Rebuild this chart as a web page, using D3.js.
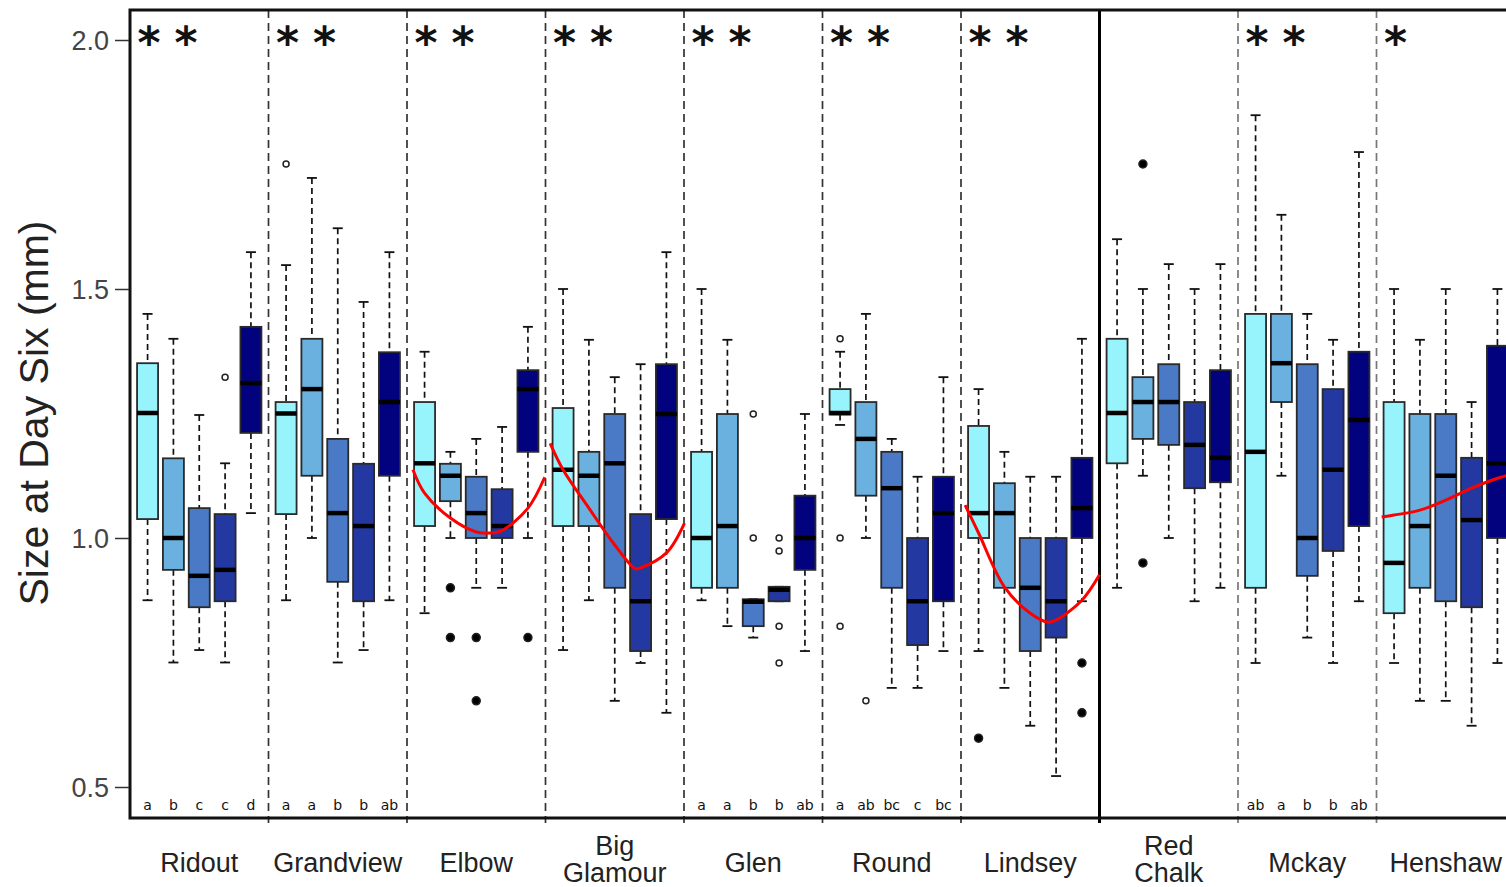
<!DOCTYPE html>
<html>
<head>
<meta charset="utf-8">
<script src="https://cdn.jsdelivr.net/npm/d3@7"></script>
<style>
  body { margin: 0; background: #fff; }
  svg { display: block; }
</style>
</head>
<body>
<svg class="chart"></svg>
<script>
// sites along the x axis, five treatments (boxes) per site
var groups = ['Ridout', 'Grandview', 'Elbow', 'Big Glamour', 'Glen', 'Round', 'Lindsey', 'Red Chalk', 'Mckay', 'Henshaw'];
var treatments = ['t1', 't2', 't3', 't4', 't5'];
var colors = ['#97f4fc', '#6bb1e0', '#4a79c6', '#2438a2', '#02027f'];

// box statistics, one row per site, one value per treatment
var whiskLo = [
  [0.875, 0.75, 0.775, 0.75, 1.05],
  [0.875, 1.0, 0.75, 0.775, 0.875],
  [0.849, 1.0, 0.9, 0.9, 1.0],
  [0.775, 0.875, 0.673, 0.749, 0.649],
  [0.875, 0.823, 0.8, 0.873, 0.773],
  [1.227, 1.0, 0.699, 0.699, 0.773],
  [0.773, 0.699, 0.623, 0.522, 0.873],
  [0.9, 1.125, 1.0, 0.873, 0.9],
  [0.749, 1.125, 0.8, 0.749, 0.873],
  [0.749, 0.673, 0.673, 0.623, 0.749]
];
var q1 = [
  [1.038, 0.936, 0.861, 0.873, 1.211],
  [1.048, 1.125, 0.912, 0.873, 1.125],
  [1.024, 1.074, 1.0, 1.0, 1.173],
  [1.024, 1.024, 0.9, 0.773, 1.038],
  [0.9, 0.9, 0.823, 0.873, 0.936],
  [1.248, 1.085, 0.9, 0.785, 0.873],
  [1.0, 0.9, 0.773, 0.8, 1.0],
  [1.15, 1.199, 1.187, 1.1, 1.112],
  [0.9, 1.273, 0.924, 0.974, 1.024],
  [0.849, 0.9, 0.873, 0.861, 1.0]
];
var medians = [
  [1.251, 1.0, 0.924, 0.936, 1.311],
  [1.25, 1.299, 1.05, 1.024, 1.273],
  [1.15, 1.125, 1.05, 1.024, 1.299],
  [1.137, 1.125, 1.15, 0.873, 1.249],
  [1.0, 1.024, 0.872, 0.896, 1.0],
  [1.251, 1.199, 1.1, 0.873, 1.05],
  [1.05, 1.05, 0.9, 0.873, 1.06],
  [1.251, 1.273, 1.273, 1.187, 1.161],
  [1.173, 1.351, 1.0, 1.137, 1.237],
  [0.95, 1.024, 1.125, 1.036, 1.15]
];
var q3 = [
  [1.351, 1.16, 1.06, 1.048, 1.424],
  [1.273, 1.4, 1.199, 1.149, 1.373],
  [1.273, 1.149, 1.123, 1.098, 1.337],
  [1.261, 1.173, 1.249, 1.048, 1.349],
  [1.173, 1.249, 0.877, 0.902, 1.085],
  [1.299, 1.273, 1.173, 1.0, 1.123],
  [1.225, 1.11, 1.0, 1.0, 1.161],
  [1.4, 1.323, 1.349, 1.273, 1.337],
  [1.45, 1.45, 1.349, 1.299, 1.374],
  [1.273, 1.249, 1.249, 1.161, 1.386]
];
var whiskHi = [
  [1.45, 1.4, 1.247, 1.15, 1.574],
  [1.548, 1.723, 1.622, 1.474, 1.574],
  [1.374, 1.173, 1.199, 1.223, 1.424],
  [1.5, 1.398, 1.323, 1.349, 1.574],
  [1.5, 1.398, 0.877, 0.902, 1.249],
  [1.374, 1.45, 1.199, 1.123, 1.323],
  [1.299, 1.173, 1.123, 1.123, 1.4],
  [1.6, 1.5, 1.55, 1.5, 1.55],
  [1.849, 1.649, 1.45, 1.398, 1.775],
  [1.5, 1.398, 1.5, 1.273, 1.5]
];

// outliers: [site index, treatment index, value]
var outliers = [
  [0, 3, 1.323], [1, 0, 1.751],
  [2, 1, 0.9], [2, 1, 0.8], [2, 2, 0.8], [2, 2, 0.673], [2, 4, 0.8],
  [4, 2, 1.249], [4, 2, 1.0], [4, 3, 1.0], [4, 3, 0.974], [4, 3, 0.823], [4, 3, 0.749],
  [5, 0, 1.4], [5, 0, 1.0], [5, 0, 0.823], [5, 1, 0.673],
  [6, 0, 0.598], [6, 4, 0.749], [6, 4, 0.649],
  [7, 1, 1.751], [7, 1, 0.95]
];
// sites whose outliers are drawn filled
var filledSites = [2, 6, 7];

var stars = [2, 2, 2, 2, 2, 2, 2, 0, 2, 1];
var letters = [
  ['a', 'b', 'c', 'c', 'd'],
  ['a', 'a', 'b', 'b', 'ab'],
  [], [],
  ['a', 'a', 'b', 'b', 'ab'],
  ['a', 'ab', 'bc', 'c', 'bc'],
  [], [],
  ['ab', 'a', 'b', 'b', 'ab'],
  []
];

var fitSites = [2, 3, 6, 9];
var fitPos = [
  [-0.45, 0, 1, 2, 2.5, 3, 4, 4.65],
  [-0.5, 0, 1, 2, 2.8, 3, 4, 4.7],
  [-0.52, 0, 1, 2, 2.7, 3, 4, 4.68],
  [-0.48, 0, 1, 2, 3, 4, 4.7]
];
var fitVal = [
  [1.137, 1.09, 1.04, 1.012, 1.01, 1.015, 1.06, 1.122],
  [1.19, 1.137, 1.06, 0.986, 0.938, 0.94, 0.97, 1.03],
  [1.066, 1.01, 0.902, 0.849, 0.831, 0.835, 0.875, 0.926],
  [1.042, 1.046, 1.056, 1.076, 1.1, 1.12, 1.13]
];

var yTicks = [0.5, 1.0, 1.5, 2.0];

var W = 1506, H = 887;
var mLeft = 130, mRight = 1515, mTop = 10, mBottom = 818;

var svg = d3.select('svg.chart').attr('width', W).attr('height', H);

var x0 = d3.scaleBand().domain(d3.range(groups.length)).range([mLeft, mRight]);
var x1 = d3.scaleLinear().domain([-0.68, 4.68]).range([0, x0.bandwidth()]);
var y = d3.scaleLinear().domain([0.5, 2.0]).range([787, 40]);

var xAt = function (g, p) { return x0(g) + x1(p); };
var boxW = 21;

// panel dividers
var dividers = d3.range(1, groups.length);
svg.append('g').selectAll('line').data(dividers).join('line')
  .attr('x1', function (d) { return x0(d); })
  .attr('x2', function (d) { return x0(d); })
  .attr('y1', mTop).attr('y2', mBottom + 5)
  .attr('stroke', function (d) { return d === 7 ? '#000' : (d > 7 ? '#777' : '#333'); })
  .attr('stroke-width', function (d) { return d === 7 ? 3 : 1.7; })
  .attr('stroke-dasharray', function (d) { return d === 7 ? null : '8,5'; });

// flatten box stats
var boxes = [];
groups.forEach(function (g, gi) {
  treatments.forEach(function (t, ti) {
    boxes.push({
      g: gi, t: ti,
      lo: whiskLo[gi][ti], q1: q1[gi][ti], med: medians[gi][ti],
      q3: q3[gi][ti], hi: whiskHi[gi][ti]
    });
  });
});

var bx = svg.append('g').selectAll('g').data(boxes).join('g')
  .attr('transform', function (d) { return 'translate(' + xAt(d.g, d.t) + ',0)'; });

// whiskers
bx.append('line')
  .attr('y1', function (d) { return y(d.hi); })
  .attr('y2', function (d) { return y(d.q3); })
  .attr('stroke', '#111').attr('stroke-width', 1.7).attr('stroke-dasharray', '6,4');
bx.append('line')
  .attr('y1', function (d) { return y(d.q1); })
  .attr('y2', function (d) { return y(d.lo); })
  .attr('stroke', '#111').attr('stroke-width', 1.7).attr('stroke-dasharray', '6,4');
bx.append('line')
  .attr('x1', -5).attr('x2', 5)
  .attr('y1', function (d) { return y(d.hi); })
  .attr('y2', function (d) { return y(d.hi); })
  .attr('stroke', '#111').attr('stroke-width', 1.8);
bx.append('line')
  .attr('x1', -5).attr('x2', 5)
  .attr('y1', function (d) { return y(d.lo); })
  .attr('y2', function (d) { return y(d.lo); })
  .attr('stroke', '#111').attr('stroke-width', 1.8);

// boxes
bx.append('rect')
  .attr('x', -boxW / 2).attr('width', boxW)
  .attr('y', function (d) { return y(d.q3); })
  .attr('height', function (d) { return Math.max(1, y(d.q1) - y(d.q3)); })
  .attr('fill', function (d) { return colors[d.t]; })
  .attr('stroke', '#2a2a2a').attr('stroke-width', 1.8);
bx.append('line')
  .attr('x1', -boxW / 2).attr('x2', boxW / 2)
  .attr('y1', function (d) { return y(d.med); })
  .attr('y2', function (d) { return y(d.med); })
  .attr('stroke', '#000').attr('stroke-width', 4.5);

// outliers
svg.append('g').selectAll('circle').data(outliers).join('circle')
  .attr('cx', function (d) { return xAt(d[0], d[1]); })
  .attr('cy', function (d) { return y(d[2]); })
  .attr('r', function (d) { return filledSites.indexOf(d[0]) >= 0 ? 4 : 3; })
  .attr('fill', function (d) { return filledSites.indexOf(d[0]) >= 0 ? '#000' : '#fff'; })
  .attr('stroke', '#222').attr('stroke-width', 1.5);

// fitted curves
var line = d3.line().curve(d3.curveCatmullRom);
fitSites.forEach(function (gi, k) {
  var pts = fitPos[k].map(function (p, j) { return [xAt(gi, p), y(fitVal[k][j])]; });
  svg.append('path').attr('d', line(pts))
    .attr('fill', 'none').attr('stroke', '#ff0000').attr('stroke-width', 3);
});

// significance stars
var starData = [];
stars.forEach(function (n, gi) {
  for (var s = 0; s < n; s++) { starData.push({ g: gi, s: s }); }
});
svg.append('g').selectAll('text').data(starData).join('text')
  .attr('x', function (d) { return x0(d.g) + 19 + d.s * 37; })
  .attr('y', 58)
  .attr('text-anchor', 'middle')
  .attr('font-family', 'DejaVu Sans, sans-serif')
  .attr('font-weight', 'bold')
  .attr('font-size', 44)
  .attr('fill', '#111')
  .text('*');

// group letters
var letterData = [];
letters.forEach(function (arr, gi) {
  arr.forEach(function (l, ti) { letterData.push({ g: gi, t: ti, l: l }); });
});
svg.append('g').selectAll('text').data(letterData).join('text')
  .attr('x', function (d) { return xAt(d.g, d.t); })
  .attr('y', 810)
  .attr('text-anchor', 'middle')
  .attr('font-family', 'DejaVu Sans, sans-serif')
  .attr('font-size', 14)
  .attr('fill', '#111')
  .text(function (d) { return d.l; });

// frame
svg.append('rect')
  .attr('x', mLeft).attr('y', mTop)
  .attr('width', mRight - mLeft).attr('height', mBottom - mTop)
  .attr('fill', 'none').attr('stroke', '#111').attr('stroke-width', 3);

// y axis
var yAxis = d3.axisLeft(y).tickValues(yTicks).tickFormat(d3.format('.1f')).tickSize(14).tickPadding(6);
var ya = svg.append('g').attr('transform', 'translate(' + (mLeft - 1) + ',0)').call(yAxis);
ya.select('.domain').remove();
ya.selectAll('.tick line').attr('stroke', '#333').attr('stroke-width', 1.5);
ya.selectAll('.tick text')
  .attr('font-family', 'Liberation Sans, Arial, sans-serif')
  .attr('font-size', 27)
  .attr('fill', '#444')
  .attr('dy', '0.35em');

svg.append('text')
  .attr('transform', 'translate(48,413) rotate(-90)')
  .attr('text-anchor', 'middle')
  .attr('font-family', 'Liberation Sans, Arial, sans-serif')
  .attr('font-size', 41)
  .attr('fill', '#222')
  .text('Size at Day Six (mm)');

// site labels
var lab = svg.append('g').selectAll('text').data(groups).join('text')
  .attr('x', function (d, i) { return x0(i) + x0.bandwidth() / 2; })
  .attr('y', function (d) { return d.indexOf(' ') > 0 ? 855 : 872; })
  .attr('text-anchor', 'middle')
  .attr('font-family', 'Liberation Sans, Arial, sans-serif')
  .attr('font-size', 27)
  .attr('fill', '#222');
lab.each(function (d) {
  var parts = d.split(' ');
  var el = d3.select(this);
  parts.forEach(function (p, k) {
    el.append('tspan')
      .attr('x', el.attr('x'))
      .attr('dy', k === 0 ? 0 : 27)
      .text(p);
  });
});
</script>
</body>
</html>
